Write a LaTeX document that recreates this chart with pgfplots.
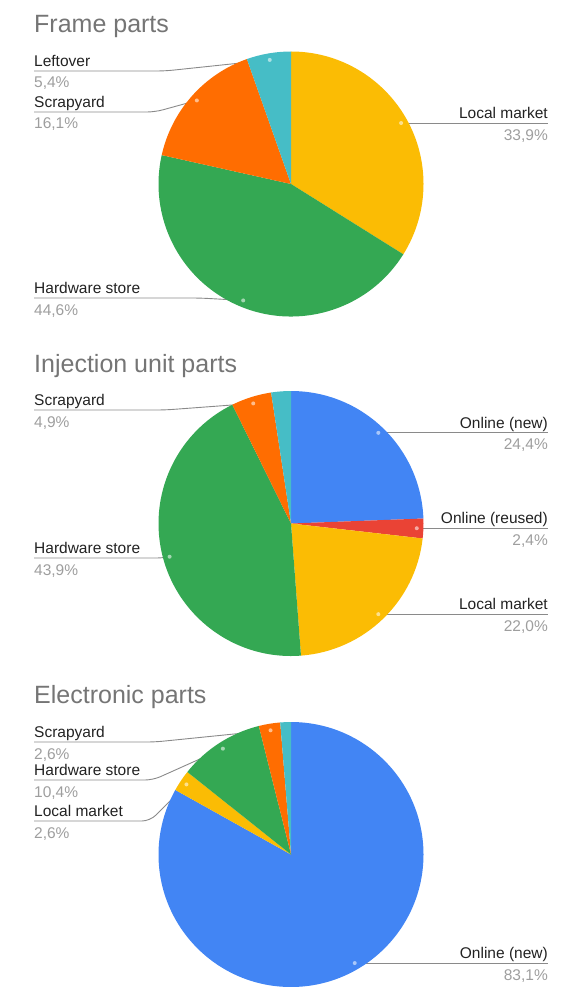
\documentclass[border=0pt]{standalone}
\usepackage{pgfplots}
\pgfplotsset{compat=1.18}
\usepackage{pgfplotstable}
\usepackage{fontspec}
\setmainfont{Liberation Sans}
\definecolor{cblu}{HTML}{4285F4}
\definecolor{cred}{HTML}{EA4335}
\definecolor{cyel}{HTML}{FBBC04}
\definecolor{cgrn}{HTML}{34A853}
\definecolor{corg}{HTML}{FF6D01}
\definecolor{ctea}{HTML}{46BDC6}
\definecolor{ctitle}{HTML}{757575}
\definecolor{ctext}{HTML}{222222}
\definecolor{cpct}{HTML}{9E9E9E}
\definecolor{cline}{HTML}{8A8A8A}

% side: 1 = label on the left, 2 = label on the right, 0 = no label
\pgfplotstableread[col sep=comma]{
label,share,color,side,ly,bend
Local market,33.9,cyel,2,123,0
Hardware store,44.6,cgrn,1,298,200
Scrapyard,16.1,corg,1,112,155
Leftover,5.4,ctea,1,71,165
}\frametab
\pgfplotstableread[col sep=comma]{
label,share,color,side,ly,bend
Online (new),24.4,cblu,2,433,0
Online (reused),2.4,cred,2,528,0
Local market,22.0,cyel,2,615,0
Hardware store,43.9,cgrn,1,558,165
Scrapyard,4.9,corg,1,410,165
Leftover,2.4,ctea,0,0,0
}\injtab
\pgfplotstableread[col sep=comma]{
label,share,color,side,ly,bend
Online (new),83.1,cblu,2,966,0
Local market,2.6,cyel,1,821,150
Hardware store,10.4,cgrn,1,780,153
Scrapyard,2.6,corg,1,742,155
Leftover,1.3,ctea,0,0,0
}\electab

\newcommand\lblfont{\fontsize{15.5}{18}\selectfont}
\newcommand\ttlfont{\fontsize{25}{30}\selectfont}
\newcommand\pct[1]{\pgfmathprintnumber[fixed,fixed zerofill,precision=1,use comma,assume math mode=true]{#1}\%}

% #1 table, #2 cx, #3 cy, #4 radius, #5 mode (0 lines, 1 wedges, 2 dots+labels)
\newcommand\pieloop[5]{%
  \pgfplotstablegetrowsof{#1}%
  \pgfmathtruncatemacro\lastrow{\pgfplotsretval-1}%
  \gdef\pieacc{0}%
  \foreach \i in {0,...,\lastrow}{%
    \pgfplotstablegetelem{\i}{share}\of{#1}\let\pieval\pgfplotsretval
    \pgfplotstablegetelem{\i}{color}\of{#1}\let\piecol\pgfplotsretval
    \pgfplotstablegetelem{\i}{side}\of{#1}\let\pieside\pgfplotsretval
    \pgfplotstablegetelem{\i}{ly}\of{#1}\let\piely\pgfplotsretval
    \pgfplotstablegetelem{\i}{bend}\of{#1}\let\piebend\pgfplotsretval
    \pgfplotstablegetelem{\i}{label}\of{#1}\let\pielabel\pgfplotsretval
    \pgfmathsetmacro\pmid{3.6*(\pieacc+\pieval/2)}%
    \pgfmathsetmacro\px{#2+0.95*#4*sin(\pmid)}%
    \pgfmathsetmacro\py{#3-0.95*#4*cos(\pmid)}%
    \pgfmathsetmacro\aone{90-3.6*\pieacc}%
    \pgfmathsetmacro\atwo{90-3.6*(\pieacc+\pieval)}%
    \ifnum\pieside=1
      \pgfmathsetmacro\lya{\piely-4.5}\pgfmathsetmacro\lyb{\piely+17}%
    \else
      \pgfmathsetmacro\lya{\py-4.5}\pgfmathsetmacro\lyb{\py+17}%
    \fi
    \ifcase#5
      \ifnum\pieside=1
        \draw[cline,line width=0.9pt,rounded corners=8pt] (axis cs:34,\piely) -- (axis cs:\piebend,\piely) -- (axis cs:\px,\py);
      \fi
      \ifnum\pieside=2
        \draw[cline,line width=0.9pt] (axis cs:\px,\py) -- (axis cs:548,\py);
      \fi
    \or
      \path[fill=\piecol] (axis cs:#2,#3) -- ++(\aone:#4pt) arc[start angle=\aone,end angle=\atwo,radius=#4pt] -- cycle;
    \or
      \ifnum\pieside>0
        \fill[white,opacity=0.55] (axis cs:\px,\py) circle[radius=2pt];
      \fi
      \ifnum\pieside=1
        \node[anchor=base west,inner sep=0pt,text=ctext,font=\lblfont] at (axis cs:34,\lya) {\pielabel};
        \node[anchor=base west,inner sep=0pt,text=cpct,font=\lblfont] at (axis cs:34,\lyb) {\pct{\pieval}};
      \fi
      \ifnum\pieside=2
        \node[anchor=base east,inner sep=0pt,text=ctext,font=\lblfont] at (axis cs:548,\lya) {\pielabel};
        \node[anchor=base east,inner sep=0pt,text=cpct,font=\lblfont] at (axis cs:548,\lyb) {\pct{\pieval}};
      \fi
    \fi
    \pgfmathsetmacro\pnew{\pieacc+\pieval}\global\let\pieacc\pnew
  }%
}
\newcommand\drawpie[4]{%
  \pieloop{#1}{#2}{#3}{#4}{0}%
  \pieloop{#1}{#2}{#3}{#4}{1}%
  \pieloop{#1}{#2}{#3}{#4}{2}%
}

\begin{document}
\begin{tikzpicture}
\begin{axis}[
  x=1pt, y=1pt, xmin=0, xmax=572, ymin=0, ymax=987,
  y dir=reverse, hide axis, scale only axis, clip=false,
]
\pgfplotsextra{%
  \path (axis cs:0,0) rectangle (axis cs:572,987);
  \node[anchor=base west,inner sep=0pt,text=ctitle,font=\ttlfont] at (axis cs:34,33) {Frame parts};
  \node[anchor=base west,inner sep=0pt,text=ctitle,font=\ttlfont] at (axis cs:34,372) {Injection unit parts};
  \node[anchor=base west,inner sep=0pt,text=ctitle,font=\ttlfont] at (axis cs:34,703) {Electronic parts};
  \drawpie{\frametab}{291}{184}{132.5}%
  \drawpie{\injtab}{291}{523.5}{132.5}%
  \drawpie{\electab}{291}{854.5}{132.5}%
}
\end{axis}
\end{tikzpicture}
\end{document}
